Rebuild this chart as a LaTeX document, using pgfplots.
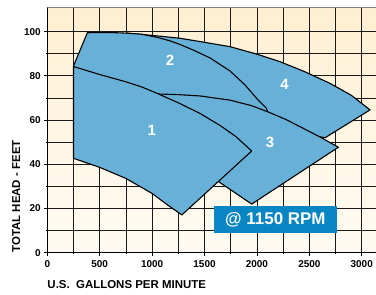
\documentclass[border=0pt]{standalone}
\usepackage{pgfplots}
\pgfplotsset{compat=1.18}
\usepackage{fontspec}
\setmainfont{Liberation Sans}
\definecolor{regblue}{RGB}{103,177,217}
\definecolor{boxblue}{RGB}{8,134,196}
\definecolor{creamtop}{RGB}{255,239,210}
\definecolor{creambot}{RGB}{255,251,243}
\begin{document}
\begin{tikzpicture}
\begin{axis}[
  name=ax,
  scale only axis,
  width=328.7bp, height=245.4bp,
  xmin=0, xmax=3136, ymin=0, ymax=111,
  axis lines=left,
  axis line style={-, black, line width=0.8bp},
  xtick={0,500,...,3000},
  minor xtick={250,750,...,2750},
  ytick={0,20,...,100},
  minor ytick={10,30,...,90},
  grid=both,
  major grid style={black!90, line width=0.75bp},
  minor grid style={black!90, line width=0.75bp},
  tick align=outside,
  major tick length=3bp,
  minor tick length=1.5bp,
  tick style={black, line width=0.75bp},
  ticklabel style={font=\fontsize{10}{11}\selectfont\bfseries},
  xticklabel style={yshift=-1bp},
  /pgf/number format/assume math mode=true,
  /pgf/number format/1000 sep={},
  axis background/.style={top color=creamtop, bottom color=creambot},
]
% region 4
\addplot[fill=regblue, draw=black, line width=1.1bp, line join=round] coordinates {
(760,99.3) (1000,98.3) (1266,97) (1457,95.5) (1743,93.2) (2000,89.8) (2220,86.4) (2450,82) (2697,76.6) (2900,71.2) (3079,64.6) (2650,52) (2300,55) (1500,66) (900,88)
} -- cycle;
% region 2
\addplot[fill=regblue, draw=black, line width=1.1bp, line join=round] coordinates {
(248,84.2) (382,99.5) (600,99.6) (758,99.3) (900,98.8) (1050,97.4) (1171,95.8) (1266,94.2) (1400,91.5) (1552,88.1) (1743,82.2) (1886,75.9) (2010,69.1) (2090,65.3) (2105,63.5) (2000,55) (1300,62) (700,76)
} -- cycle;
% region 3
\addplot[fill=regblue, draw=black, line width=1.1bp, line join=round] coordinates {
(1047,71.8) (1250,71.5) (1457,70.9) (1743,69) (1950,66.5) (2110,63.6) (2270,60.4) (2415,56.9) (2600,52.4) (2777,47.7) (1950,22) (1648,31.7) (1450,38)
} -- cycle;
% region 1
\addplot[fill=regblue, draw=black, line width=1.1bp, line join=round] coordinates {
(250,42.7) (250,84.2) (500,80.6) (750,77.3) (900,75) (1047,72.1) (1250,67.8) (1457,63) (1650,57.5) (1800,52.5) (1950,46) (1284,17.1) (1150,21.5) (1000,26.8) (750,33.6) (500,38.6)
} -- cycle;
\node[white, font=\fontsize{15}{15}\selectfont\bfseries] at (axis cs:996,55.5) {1};
\node[white, font=\fontsize{15}{15}\selectfont\bfseries] at (axis cs:1171,87) {2};
\node[white, font=\fontsize{15}{15}\selectfont\bfseries] at (axis cs:2125,50) {3};
\node[white, font=\fontsize{15}{15}\selectfont\bfseries] at (axis cs:2264,76.2) {4};
\fill[boxblue] (axis cs:1591,8.8) rectangle (axis cs:2761,21.1);
\node[white, font=\fontsize{17}{18}\selectfont\bfseries] at (axis cs:2176,14.95) {@ 1150 RPM};
\draw[black!50, line width=1.5bp] (rel axis cs:0,1) -- (rel axis cs:1,1);
\end{axis}
\node[anchor=base west, inner sep=0pt, font=\fontsize{11.5}{12}\selectfont\bfseries] at ([yshift=-35.3bp]ax.south west) {U.S.\ \ GALLONS PER MINUTE};
\node[rotate=90, anchor=base west, inner sep=0pt, font=\fontsize{11.5}{12}\selectfont\bfseries] at ([xshift=-27.3bp]ax.south west) {TOTAL HEAD - FEET};
\pgfresetboundingbox
\path[use as bounding box] ([shift={(-47.3bp,-42.3bp)}]ax.south west) rectangle ([shift={(0bp,7.3bp)}]ax.north east);
\end{tikzpicture}
\end{document}
